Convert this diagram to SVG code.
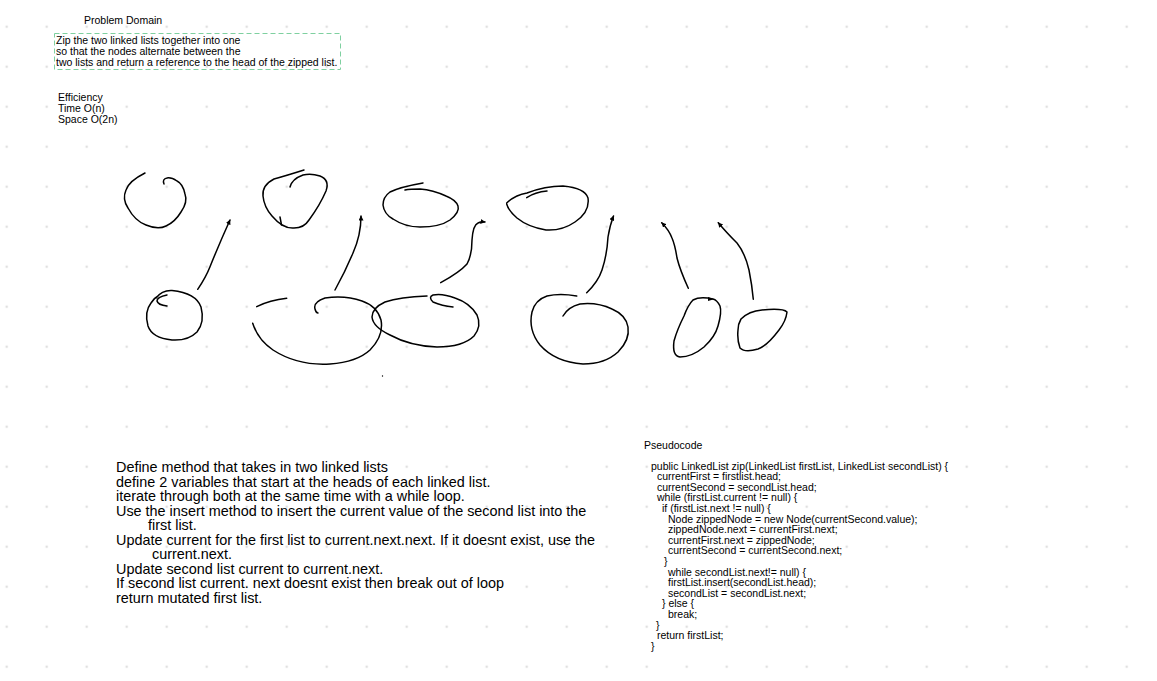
<svg xmlns="http://www.w3.org/2000/svg" width="1157" height="681" viewBox="0 0 1157 681">
<defs>
<pattern id="grid" patternUnits="userSpaceOnUse" x="-13.3" y="6.7" width="40" height="40">
<circle cx="20" cy="20" r="1.3" fill="#e0e0e0"/>
</pattern>
<marker id="ah" viewBox="0 0 10 10" refX="9" refY="5" markerWidth="5" markerHeight="5" orient="auto" markerUnits="userSpaceOnUse">
<path d="M0,0 L10,5 L0,10 Z" fill="#000"/>
</marker>
</defs>
<style>
.t{font-family:"Liberation Sans",Arial,sans-serif;fill:#000}
.s{font-size:10.5px}
.b{font-size:14.4px}
.c{font-size:10.5px}
.ink{fill:none;stroke:#000;stroke-width:1.5;stroke-linecap:round;stroke-linejoin:round}
.arr{fill:none;stroke:#000;stroke-width:1.5;stroke-linecap:round;marker-end:url(#ah)}
</style>
<rect width="1157" height="681" fill="#fff"/>
<rect width="1157" height="681" fill="url(#grid)"/>

<g id="problem-domain">
<text class="t s" x="84" y="24">Problem Domain</text>
<rect x="54.5" y="33.5" width="286" height="36" fill="none" stroke="#7fd0a0" stroke-width="1" stroke-dasharray="5,3"/>
<text class="t s" x="56" y="43.5">Zip the two linked lists together into one</text>
<text class="t s" x="56" y="54.5">so that the nodes alternate between the</text>
<text class="t s" x="56" y="65.5">two lists and return a reference to the head of the zipped list.</text>
</g>

<g id="efficiency">
<text class="t s" x="58" y="101">Efficiency</text>
<text class="t s" x="58" y="112">Time O(n)</text>
<text class="t s" x="58" y="123">Space O(2n)</text>
</g>

<g id="sketch">
<path class="ink" d="M145,173 Q129,181 126,190 Q122,199 128,208 Q135,221 146,225 Q158,230 166,226 Q175,222 181,212 Q188,202 185,194 Q183,184 177,181 Q171,177 167,178 Q162,179 164,184"/>
<path class="ink" d="M167,295 Q157,297 157,301 Q158,305 167,306"/>
<path class="ink" d="M156,298 Q162,290 172,290.5 Q196,293 201,307 Q205,322 197,332 Q188,341 172,340 Q152,338 148,326 Q144,312 151,303 Q154,298 158,296"/>
<path class="ink" d="M304,170 Q285,176 274,179 Q262,185 263,196 Q264,207 272,216 Q283,229 294,228 Q304,228 309,220 Q320,205 326,191 Q330,180 320,176 Q311,173 303,175 Q292,179 290,187"/>
<path class="ink" d="M280,217 L281.5,225"/>
<path class="ink" d="M256.7,306.7 Q270,300 286.7,298.3"/>
<path class="ink" d="M252.7,323.3 Q258,340 273,350 Q298,366 330,364 Q357,362 370,350 Q384,336 381,320 Q377,306 362,301 Q345,295 325,298 Q313,302 315,309 Q316,313 318,313"/>
<path class="ink" d="M427,296 Q400,297 385,302 Q372,308 372,317 Q373,327 390,335 Q410,346 437,347 Q463,347 474,336 Q482,326 477,315 Q470,303 455,298 Q442,293 433,295 Q428,297 433,302 Q442,306 453,307"/>
<path class="ink" d="M423,183 Q400,187 390,192 Q383,197 383,205 Q384,214 393,219 Q405,227 420,227 Q440,227 450,220 Q460,212 458,206 Q456,200 446,196 Q433,190 420,189 Q410,189 405,190"/>
<path class="ink" d="M506.7,203 Q515,195 527,193 Q545,186 563,186 Q585,188 588,198 Q590,212 575,222 Q562,231 546,230 Q528,227 517,218 Q508,210 506.7,204"/>
<path class="ink" d="M526.7,197.7 Q535,192 547,191"/>
<path class="ink" d="M576.7,296 Q560,293 547,296 Q535,300 532,312 Q528,330 540,345 Q555,362 583,364 Q605,364 618,352 Q630,340 628,327 Q626,315 612,309 Q597,302 580,304 Q568,307 563,316"/>
<path class="ink" d="M713,299 Q700,296 693,300 Q688,305 684,316 Q677,330 674,341 Q672,356 680,357 Q692,357 704,347 Q715,337 718,326 Q722,312 720,306 Q717,300 713,299"/>
<path d="M708,297 L714,299.3 L708,301 Z" fill="#000"/>
<path class="ink" d="M741,319 Q749,311 762,310 Q783,308 787,312 Q786,321 779,330 Q767,346 758,349 Q745,353 740,348 Q737,340 738,330 Q738,324 741,319"/>
<circle cx="382.5" cy="376" r="0.7" fill="#000"/>
</g>

<g id="connectors">
<path class="arr" d="M197.7,289.3 Q206,277 210,266.7 Q220,242 230,220"/>
<path class="arr" d="M335,290 Q345,272 353,253 Q361,235 361,216"/>
<path class="arr" d="M440.7,282.7 Q460,272 467,264 Q472,255 472,240 Q473,225 478,223 Q481,221.5 485,222"/>
<path class="arr" d="M586.7,292.7 Q598,282 602,270 Q607,255 608,237 Q610,225 613.5,216"/>
<path class="arr" d="M688.3,288.3 Q680,270 677,258 Q675,245 672,238 Q669,230 661.7,222.7"/>
<path class="arr" d="M753.3,299.3 Q752,285 749,270 Q745,253 737,243 Q726,232 718.3,222.7"/>
</g>

<g id="steps">
<text class="t b" x="116" y="472">Define method that takes in two linked lists</text>
<text class="t b" x="116" y="486.5">define 2 variables that start at the heads of each linked list.</text>
<text class="t b" x="116" y="501">iterate through both at the same time with a while loop.</text>
<text class="t b" x="116" y="515.5">Use the insert method to insert the current value of the second list into the</text>
<text class="t b" x="148" y="530">first list.</text>
<text class="t b" x="116" y="544.5">Update current for the first list to current.next.next. If it doesnt exist, use the</text>
<text class="t b" x="152" y="559">current.next.</text>
<text class="t b" x="116" y="573.5">Update second list current to current.next.</text>
<text class="t b" x="116" y="588">If second list current. next doesnt exist then break out of loop</text>
<text class="t b" x="116" y="602.5">return mutated first list.</text>
</g>

<g id="pseudocode">
<text class="t c" x="644" y="449">Pseudocode</text>
<text class="t c" x="651" y="469.5">public LinkedList zip(LinkedList firstList, LinkedList secondList) {</text>
<text class="t c" x="657" y="480.1">currentFirst = firstlist.head;</text>
<text class="t c" x="657" y="490.7">currentSecond = secondList.head;</text>
<text class="t c" x="657" y="501.3">while (firstList.current != null) {</text>
<text class="t c" x="662" y="511.9">if (firstList.next != null) {</text>
<text class="t c" x="668" y="522.5">Node zippedNode = new Node(currentSecond.value);</text>
<text class="t c" x="668" y="533.1">zippedNode.next = currentFirst.next;</text>
<text class="t c" x="668" y="543.7">currentFirst.next = zippedNode;</text>
<text class="t c" x="668" y="554.3">currentSecond = currentSecond.next;</text>
<text class="t c" x="664" y="564.9">}</text>
<text class="t c" x="668" y="575.5">while secondList.next!= null) {</text>
<text class="t c" x="668" y="586.1">firstList.insert(secondList.head);</text>
<text class="t c" x="668" y="596.7">secondList = secondList.next;</text>
<text class="t c" x="662" y="607.3">} else {</text>
<text class="t c" x="668" y="617.9">break;</text>
<text class="t c" x="656" y="628.5">}</text>
<text class="t c" x="657" y="639.1">return firstList;</text>
<text class="t c" x="651" y="649.7">}</text>
</g>
</svg>
